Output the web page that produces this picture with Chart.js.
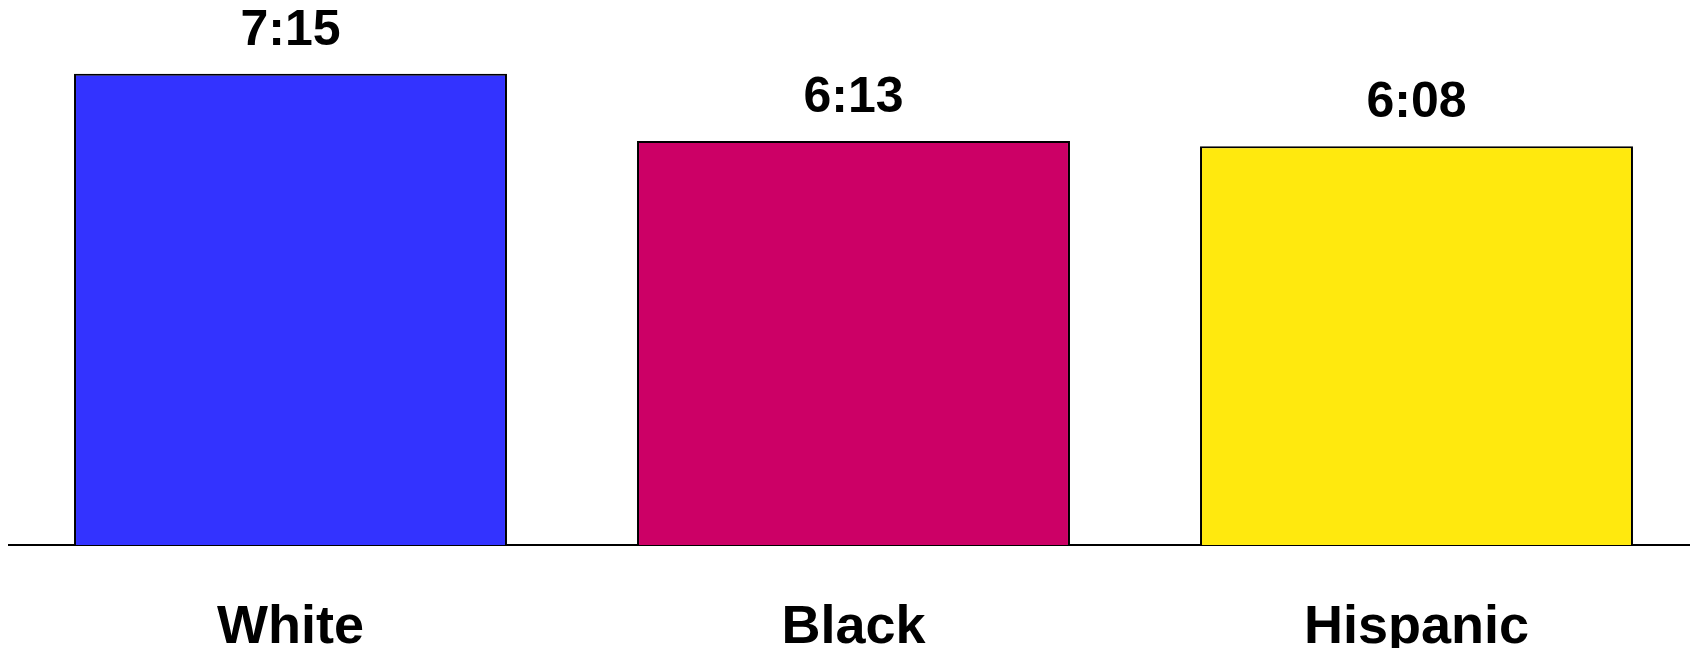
<!DOCTYPE html>
<html lang="en">
  <head>
    <meta charset="UTF-8" />
    <title>Time by group</title>
    <script src="https://cdn.jsdelivr.net/npm/chart.js"></script>
    <style>
      html, body {
        margin: 0;
        padding: 0;
        background: #ffffff;
        overflow: hidden;
      }
      /* a bit larger than the window so the plot area lines up with the original */
      #chart-container {
        position: relative;
        width: 1698px;
        height: 711px;
      }
    </style>
  </head>
  <body>
    <div id="chart-container">
      <canvas id="groupChart"></canvas>
    </div>

    <script>
      // Data: time in minutes, shown as h:mm
      const categories = ["White", "Black", "Hispanic"];
      const minutes = [435, 373, 368];
      const barColors = ["#3333ff", "#cc0066", "#ffe90e"];

      const FONT = "'Liberation Sans', Arial, Helvetica, sans-serif";

      function toClock(m) {
        const h = Math.floor(m / 60);
        const mm = m % 60;
        return h + ":" + String(mm).padStart(2, "0");
      }

      // Draw the h:mm values above each bar
      const valueLabels = {
        id: "valueLabels",
        afterDatasetsDraw(chart) {
          const ctx = chart.ctx;
          const meta = chart.getDatasetMeta(0);
          ctx.save();
          ctx.font = "bold 50px " + FONT;
          ctx.fillStyle = "#000";
          ctx.textAlign = "center";
          ctx.textBaseline = "alphabetic";
          meta.data.forEach((bar, i) => {
            ctx.fillText(toClock(minutes[i]), bar.x, bar.y - 29);
          });
          ctx.restore();
        },
      };

      const ctx = document.getElementById("groupChart").getContext("2d");

      new Chart(ctx, {
        type: "bar",
        data: {
          labels: categories,
          datasets: [
            {
              data: minutes,
              backgroundColor: barColors,
              borderColor: "#000",
              borderWidth: 2,
              categoryPercentage: 1,
              barPercentage: 0.769,
            },
          ],
        },
        options: {
          responsive: true,
          maintainAspectRatio: false,
          animation: false,
          layout: {
            padding: {left: 9, right: 0, top: 25, bottom: 0},
          },
          scales: {
            y: {
              display: false,
              min: 0,
              max: 480,
            },
            x: {
              grid: {display: false, drawTicks: false},
              border: {display: true, color: "#000", width: 2},
              ticks: {
                color: "#000",
                padding: 56,
                font: {family: FONT, size: 54, weight: "bold", lineHeight: 1},
              },
            },
          },
          plugins: {
            legend: {display: false},
            tooltip: {enabled: false},
          },
        },
        plugins: [valueLabels],
      });
    </script>
  </body>
</html>
